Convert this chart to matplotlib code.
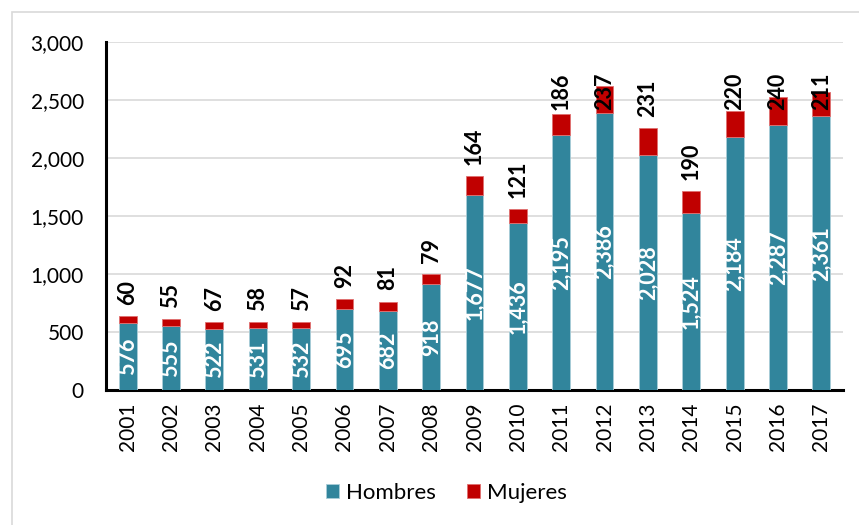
import matplotlib
matplotlib.use("Agg")
import matplotlib.pyplot as plt
import numpy as np
from matplotlib.patches import Rectangle
from matplotlib.ticker import FuncFormatter

years = [str(y) for y in range(2001, 2018)]
hombres = [576, 555, 522, 531, 532, 695, 682, 918, 1677, 1436, 2195, 2386, 2028, 1524, 2184, 2287, 2361]
mujeres = [60, 55, 67, 58, 57, 92, 81, 79, 164, 121, 186, 237, 231, 190, 220, 240, 211]

teal = "#31859C"
red = "#C00000"

plt.rcParams['font.family'] = ['Lato', 'DejaVu Sans']

fig = plt.figure(figsize=(8.59, 5.25), dpi=100)
ax = fig.add_axes([0.1234, 0.2571, 0.858, 0.6629])

# outer frame (only top and left visible in the reference)
fig.patches.append(Rectangle((12/859, -0.1), 2.0, 1.1 - 12/525, transform=fig.transFigure,
                             fill=False, edgecolor="#d9d9d9", linewidth=1.2))

x = np.arange(len(years))
w = 0.41
ax.bar(x, hombres, w, color=teal, edgecolor="#a9cdd8", linewidth=0.6, label="Hombres", zorder=3)
ax.bar(x, mujeres, w, bottom=hombres, color=red, edgecolor="#e07070", linewidth=0.6, label="Mujeres", zorder=3)

for i in range(len(years)):
    ax.text(x[i], hombres[i] / 2, f"{hombres[i]:,}", rotation=90, ha="center", va="center",
            color="white", fontsize=15.5, fontweight="bold", zorder=4)
    total = hombres[i] + mujeres[i]
    ax.text(x[i], min(total + 95, 2410), f"{mujeres[i]:,}", rotation=90, ha="center", va="bottom",
            color="black", fontsize=15.5, fontweight="bold", zorder=4)

ax.set_xlim(-0.5, len(years) - 0.5)
ax.set_ylim(0, 3000)
ax.set_yticks(range(0, 3001, 500))
ax.yaxis.set_major_formatter(FuncFormatter(lambda v, p: f"{int(v):,}"))
ax.set_xticks(x)
ax.set_xticklabels(years, rotation=90)
ax.tick_params(axis="both", length=0, labelsize=15, colors="black")
ax.tick_params(axis="y", pad=16)
ax.tick_params(axis="x", pad=9)

ax.grid(axis="y", color="#d9d9d9", linewidth=1.2, zorder=0)
ax.set_axisbelow(True)
for s in ["top", "right"]:
    ax.spines[s].set_visible(False)
for s in ["left", "bottom"]:
    ax.spines[s].set_linewidth(2.2)
    ax.spines[s].set_color("black")

ax.legend(loc="center", bbox_to_anchor=(446/859, 1 - 493/525), bbox_transform=fig.transFigure,
          ncol=2, frameon=False, fontsize=16, handlelength=0.6, handleheight=0.6,
          handletextpad=0.3, columnspacing=1.4)

fig.savefig("out.png", dpi=100, facecolor="white")
